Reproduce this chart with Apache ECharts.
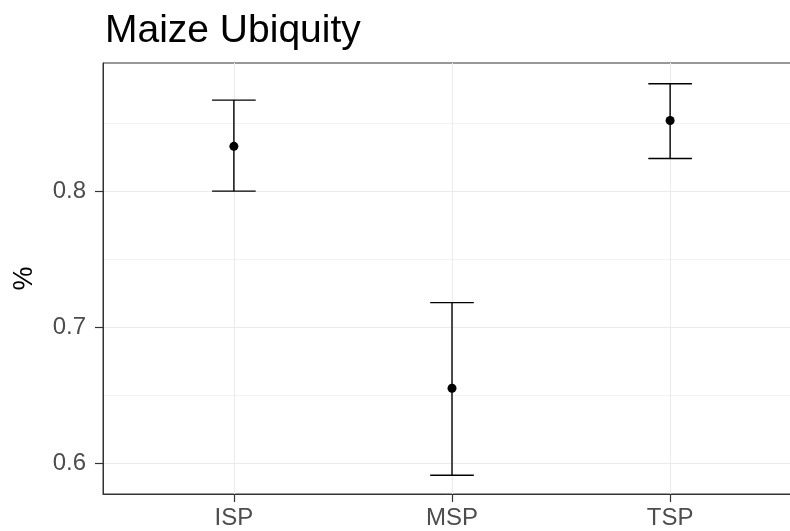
<!DOCTYPE html>
<html>
<head>
<meta charset="utf-8">
<title>Maize Ubiquity</title>
<script src="https://cdn.jsdelivr.net/npm/echarts@6/dist/echarts.min.js"></script>
<style>
  html, body { margin: 0; padding: 0; background: #fff; }
  #chart { width: 790px; height: 531px; }
</style>
</head>
<body>
<div id="chart"></div>
<script>
// Site types and their maize ubiquity (mean with lower/upper bounds)
const categories = ['ISP', 'MSP', 'TSP'];
const meanValues = [0.833, 0.655, 0.852];
const lowerValues = [0.800, 0.591, 0.824];
const upperValues = [0.867, 0.718, 0.879];

// Tick positions on the y axis and the in-between grid lines
const yTickValues = [0.6, 0.7, 0.8];
const yMinorValues = [0.65, 0.75, 0.85];

// Axis ranges (categories sit at 1, 2, 3 with 0.6 padding either side)
const X_MIN = 0.4, X_MAX = 3.6;
const Y_MIN = 0.5772, Y_MAX = 0.8943;

const FONT = '"Liberation Sans", Arial, Helvetica, sans-serif';

const positions = categories.map((c, i) => i + 1);
const pointData = positions.map((x, i) => [x, meanValues[i]]);
const barData = positions.map((x, i) => [x, lowerValues[i], upperValues[i]]);

const gridLineData = []
  .concat(yMinorValues.map(v => ({ yAxis: v, lineStyle: { color: '#f0f0f0', width: 0.8, type: 'solid' } })))
  .concat(yTickValues.map(v => ({ yAxis: v, lineStyle: { color: '#ebebeb', width: 1.1, type: 'solid' } })))
  .concat(positions.map(v => ({ xAxis: v, lineStyle: { color: '#ebebeb', width: 1.1, type: 'solid' } })));

const CAP_HALF = 0.1;   // half width of the error bar caps, in x units

const chart = echarts.init(document.getElementById('chart'), null, { renderer: 'canvas' });

const axisLineStyle = { show: true, lineStyle: { color: '#333333', width: 1 } };
const tickLineStyle = { color: '#333333', width: 1.2 };

chart.setOption({
  animation: false,
  backgroundColor: '#ffffff',
  title: {
    text: 'Maize Ubiquity',
    left: 100,
    top: 7,
    textStyle: { fontFamily: FONT, fontSize: 39, fontWeight: 'normal', color: '#000' }
  },
  grid: {
    left: 103,
    top: 63,
    width: 698,
    height: 431,
    outerBoundsMode: 'none',
    containLabel: false,
    show: true,
    borderColor: '#333333',
    borderWidth: 1,
    backgroundColor: 'transparent'
  },
  xAxis: {
    type: 'value',
    min: X_MIN,
    max: X_MAX,
    axisLine: axisLineStyle,
    splitLine: { show: false },
    axisTick: { show: true, customValues: positions, length: 8, lineStyle: tickLineStyle },
    axisLabel: {
      customValues: positions,
      margin: 12,
      fontFamily: FONT,
      fontSize: 24,
      color: '#4d4d4d',
      formatter: v => categories[Math.round(v) - 1] || ''
    }
  },
  yAxis: {
    type: 'value',
    min: Y_MIN,
    max: Y_MAX,
    name: '%',
    nameLocation: 'middle',
    nameGap: 65,
    nameRotate: 90,
    nameTextStyle: { fontFamily: FONT, fontSize: 27, color: '#000' },
    axisLine: axisLineStyle,
    splitLine: { show: false },
    axisTick: { show: true, customValues: yTickValues, length: 8, lineStyle: tickLineStyle },
    axisLabel: {
      customValues: yTickValues,
      margin: 17,
      fontFamily: FONT,
      fontSize: 24,
      color: '#4d4d4d',
      formatter: v => v.toFixed(1)
    }
  },
  series: [
    {
      // background grid lines
      type: 'line',
      data: [],
      silent: true,
      z: 0,
      markLine: {
        silent: true,
        z: 0,
        symbol: ['none', 'none'],
        label: { show: false },
        animation: false,
        data: gridLineData
      }
    },
    {
      // error bars
      type: 'custom',
      z: 10,
      data: barData,
      encode: { x: 0, y: [1, 2] },
      renderItem: function (params, api) {
        const x = api.value(0);
        const lo = api.value(1);
        const hi = api.value(2);
        const pLo = api.coord([x, lo]);
        const pHi = api.coord([x, hi]);
        const left = api.coord([x - CAP_HALF, lo])[0];
        const right = api.coord([x + CAP_HALF, lo])[0];
        const style = { stroke: '#000', lineWidth: 1.4, fill: null };
        return {
          type: 'group',
          children: [
            { type: 'line', shape: { x1: pLo[0], y1: pLo[1], x2: pHi[0], y2: pHi[1] }, style: style },
            { type: 'line', shape: { x1: left, y1: pHi[1], x2: right, y2: pHi[1] }, style: style },
            { type: 'line', shape: { x1: left, y1: pLo[1], x2: right, y2: pLo[1] }, style: style }
          ]
        };
      }
    },
    {
      // means
      type: 'scatter',
      z: 11,
      data: pointData,
      symbol: 'circle',
      symbolSize: 9,
      itemStyle: { color: '#000', opacity: 1 }
    }
  ]
});
</script>
</body>
</html>
